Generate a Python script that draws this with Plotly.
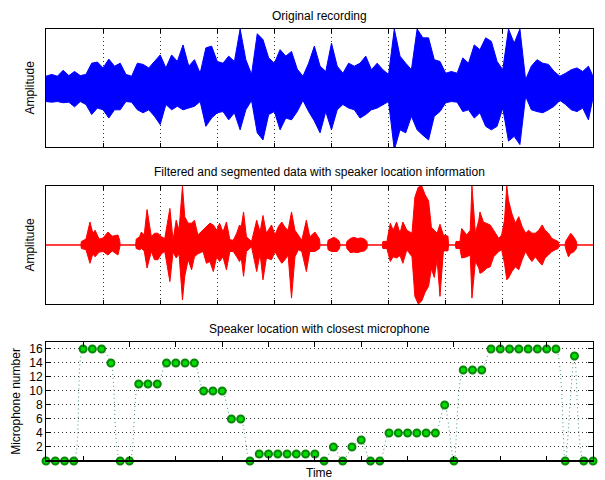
import plotly.graph_objects as go

# ---------------- data ----------------
# Original recording: amplitude envelope (normalised to the axes), sampled every 0.1 time units
orig_t = [round(0.1 * k, 2) for k in range(96)] + [9.58]
orig_upper = [0.20, 0.23, 0.20, 0.30, 0.21, 0.28, 0.21, 0.23, 0.42, 0.44,
              0.34, 0.49, 0.37, 0.42, 0.23, 0.20, 0.42, 0.40, 0.34, 0.45,
              0.56, 0.34, 0.56, 0.45, 0.73, 0.37, 0.48, 0.25, 0.68, 0.71,
              0.45, 0.42, 0.54, 0.45, 1.00, 0.48, 0.23, 0.92, 0.82, 0.51,
              0.42, 0.65, 0.54, 0.62, 0.32, 0.20, 0.42, 0.71, 0.37, 0.28,
              0.76, 0.37, 0.25, 0.42, 0.37, 0.42, 0.54, 0.31, 0.42, 0.31,
              0.23, 1.00, 0.54, 0.42, 0.31, 1.00, 0.85, 0.85, 0.48, 0.45,
              0.25, 0.28, 0.25, 0.51, 0.42, 0.73, 0.65, 0.85, 0.79, 0.45,
              0.31, 1.00, 0.76, 1.00, 0.14, 0.37, 0.48, 0.42, 0.40, 0.28,
              0.20, 0.25, 0.31, 0.34, 0.28, 0.37, 0.20]
orig_lower = [-0.23, -0.24, -0.23, -0.25, -0.24, -0.32, -0.23, -0.28, -0.45, -0.34,
              -0.37, -0.51, -0.37, -0.37, -0.23, -0.24, -0.37, -0.42, -0.37, -0.48,
              -0.62, -0.28, -0.37, -0.31, -0.37, -0.34, -0.31, -0.23, -0.65, -0.51,
              -0.42, -0.40, -0.54, -0.42, -0.71, -0.37, -0.21, -0.76, -0.88, -0.45,
              -0.40, -0.71, -0.51, -0.54, -0.40, -0.21, -0.40, -0.56, -0.76, -0.40,
              -0.71, -0.37, -0.28, -0.34, -0.37, -0.51, -0.45, -0.37, -0.34, -0.28,
              -0.23, -1.05, -0.71, -0.76, -0.48, -0.71, -0.80, -0.88, -0.48, -0.40,
              -0.25, -0.23, -0.24, -0.40, -0.37, -0.51, -0.42, -0.65, -0.71, -0.65,
              -0.34, -0.90, -0.82, -0.96, -0.14, -0.37, -0.40, -0.42, -0.37, -0.31,
              -0.21, -0.28, -0.37, -0.40, -0.34, -0.54, -0.17]

# Filtered and segmented data: envelope (time, upper, lower)
filt_t = [0, 0.61,
          0.62, 0.70, 0.77, 0.82, 0.86, 0.93, 1.00, 1.085, 1.16, 1.26, 1.29, 1.30,
          1.57,
          1.58, 1.64, 1.67, 1.72, 1.77, 1.845, 1.90, 1.96, 2.02, 2.08, 2.17, 2.225,
          2.28, 2.33, 2.39, 2.43, 2.49, 2.55, 2.60, 2.66, 2.75, 2.81, 2.87, 2.93,
          2.99, 3.04, 3.10, 3.16, 3.22, 3.28, 3.34, 3.39, 3.42, 3.46, 3.51, 3.60,
          3.69, 3.75, 3.80, 3.86, 3.95, 4.01, 4.07, 4.13, 4.185, 4.24, 4.30, 4.36,
          4.42, 4.48, 4.56, 4.62, 4.71, 4.79, 4.80,
          4.93,
          4.94, 5.00, 5.04, 5.10, 5.14, 5.15,
          5.26,
          5.27, 5.33, 5.39, 5.45, 5.52, 5.58, 5.62, 5.63,
          5.89,
          5.90, 5.97, 6.03, 6.08, 6.14, 6.20, 6.25, 6.32, 6.41, 6.46, 6.52, 6.58,
          6.64, 6.70, 6.75, 6.80, 6.85, 6.90, 6.96, 7.04, 7.05,
          7.17,
          7.18, 7.25, 7.28, 7.37, 7.43, 7.46, 7.52, 7.58, 7.60, 7.66, 7.72, 7.78,
          7.84, 7.93, 7.98, 8.03, 8.07, 8.10, 8.16, 8.22, 8.28, 8.34, 8.40, 8.45,
          8.51, 8.57, 8.63, 8.69, 8.74, 8.80, 8.86, 8.92, 8.97, 8.98,
          9.09,
          9.10, 9.15, 9.19, 9.24, 9.29, 9.30,
          9.58]
filt_upper = [0, 0,
              0.06, 0.10, 0.39, 0.20, 0.25, 0.10, 0.12, 0.22, 0.15, 0.17, 0.08, 0,
              0,
              0.10, 0.14, 0.22, 0.17, 0.60, 0.14, 0.20, 0.20, 0.14, 0.11, 0.62, 0.08,
              0.42, 0.25, 1.00, 0.48, 0.37, 0.37, 0.42, 0.17, 0.25, 0.31, 0.37, 0.34,
              0.25, 0.37, 0.22, 0.39, 0.09, 0.08, 0.20, 0.34, 0.31, 0.56, 0.14, 0.06,
              0.42, 0.22, 0.50, 0.20, 0.34, 0.17, 0.31, 0.39, 0.30, 0.25, 0.56, 0.25,
              0.17, 0.08, 0.42, 0.14, 0.22, 0.10, 0,
              0,
              0.08, 0.11, 0.13, 0.10, 0.06, 0,
              0,
              0.06, 0.11, 0.13, 0.11, 0.12, 0.10, 0.06, 0,
              0,
              0.06, 0.06, 0.37, 0.25, 0.39, 0.20, 0.39, 0.25, 0.20, 0.81, 0.98, 1.00,
              0.85, 0.75, 0.30, 0.25, 0.20, 0.35, 0.17, 0.15, 0,
              0,
              0.06, 0.06, 0.28, 0.17, 0.25, 1.00, 0.20, 0.42, 0.56, 0.39, 0.37, 0.34,
              0.25, 0.11, 0.17, 0.42, 1.00, 0.76, 0.53, 0.37, 0.48, 0.31, 0.20, 0.25,
              0.20, 0.20, 0.25, 0.34, 0.25, 0.20, 0.11, 0.08, 0.06, 0,
              0,
              0.06, 0.14, 0.20, 0.14, 0.06, 0,
              0]
filt_lower = [0, 0,
              -0.06, -0.08, -0.31, -0.15, -0.20, -0.12, -0.11, -0.17, -0.10, -0.17, -0.06, 0,
              0,
              -0.06, -0.08, -0.06, -0.10, -0.39, -0.11, -0.25, -0.25, -0.15, -0.11, -0.62, -0.12,
              -0.22, -0.15, -0.93, -0.53, -0.25, -0.42, -0.20, -0.15, -0.11, -0.31, -0.28, -0.45,
              -0.20, -0.28, -0.20, -0.42, -0.11, -0.11, -0.20, -0.28, -0.22, -0.53, -0.11, -0.03,
              -0.45, -0.15, -0.59, -0.22, -0.25, -0.11, -0.22, -0.31, -0.25, -0.17, -0.90, -0.20,
              -0.08, -0.11, -0.45, -0.11, -0.11, -0.06, 0,
              0,
              -0.08, -0.11, -0.11, -0.11, -0.06, 0,
              0,
              -0.06, -0.13, -0.12, -0.13, -0.11, -0.10, -0.06, 0,
              0,
              -0.06, -0.06, -0.28, -0.20, -0.22, -0.18, -0.31, -0.08, -0.20, -0.87, -1.00, -0.95,
              -0.80, -0.70, -0.40, -0.55, -0.25, -0.87, -0.10, -0.10, 0,
              0,
              -0.06, -0.06, -0.22, -0.20, -0.17, -0.90, -0.28, -0.39, -0.48, -0.45, -0.39, -0.37,
              -0.20, -0.11, -0.08, -0.31, -0.59, -0.56, -0.45, -0.37, -0.42, -0.25, -0.11, -0.20,
              -0.28, -0.20, -0.28, -0.34, -0.22, -0.17, -0.11, -0.08, -0.06, 0,
              0,
              -0.06, -0.20, -0.14, -0.12, -0.06, 0,
              0]

# Speaker location: closest microphone per time step
loc_t = [round(0.2 * (i + 1), 1) for i in range(60)]
loc_mic = [0, 0, 0, 0, 16, 16, 16, 14, 0, 0, 11, 11, 11, 14, 14, 14, 14, 10, 10, 10,
           6, 6, 0, 1, 1, 1, 1, 1, 1, 1, 0, 2, 0, 2, 3, 0, 0, 4, 4, 4,
           4, 4, 4, 8, 0, 13, 13, 13, 16, 16, 16, 16, 16, 16, 16, 16, 0, 15, 0, 0]

wave_ticks = [1, 2, 3, 4, 5, 6, 7, 8, 9]
loc_xticks = [1, 2, 3, 4, 5, 6, 7, 8, 9, 10, 11]
loc_yticks = [2, 4, 6, 8, 10, 12, 14, 16]

# ---------------- figure ----------------
FONT = "Liberation Sans, Arial, Helvetica, sans-serif"
fig = go.Figure()

fig.add_trace(go.Scatter(
    x=orig_t + orig_t[::-1], y=orig_upper + orig_lower[::-1],
    fill="toself", fillcolor="#0000ff", mode="lines",
    line=dict(color="#0000ff", width=1), xaxis="x", yaxis="y",
    hoverinfo="skip", showlegend=False))

fig.add_trace(go.Scatter(
    x=filt_t + filt_t[::-1], y=filt_upper + filt_lower[::-1],
    fill="toself", fillcolor="#ff0000", mode="lines",
    line=dict(color="#ff0000", width=1), xaxis="x2", yaxis="y2",
    hoverinfo="skip", showlegend=False))

fig.add_trace(go.Scatter(
    x=loc_t, y=loc_mic, mode="lines+markers",
    line=dict(color="#3f9a70", width=1, dash="1px,3px", shape="spline", smoothing=0.8),
    marker=dict(size=7, color="#00dd00", line=dict(color="#0a850a", width=2)),
    cliponaxis=False, xaxis="x3", yaxis="y3", showlegend=False))

frame = dict(showline=True, linecolor="black", linewidth=1, mirror=True,
             zeroline=False)
grid = dict(showgrid=True, gridcolor="#333333", gridwidth=1, griddash="1px,3px")

fig.update_layout(
    width=605, height=480,
    margin=dict(l=46, r=12, t=29, b=19),
    paper_bgcolor="white", plot_bgcolor="white",
    font=dict(family=FONT, size=11, color="black"),
    xaxis=dict(domain=[0, 1], range=[0, 9.58], anchor="y", tickvals=wave_ticks,
               showticklabels=False, ticks="inside", ticklen=4, tickcolor="black",
               **frame, **grid),
    yaxis=dict(domain=[0.7269, 1.0], range=[-1, 1], anchor="x",
               showticklabels=False, ticks="", showgrid=False, **frame),
    xaxis2=dict(domain=[0, 1], range=[0, 9.58], anchor="y2", tickvals=wave_ticks,
                showticklabels=False, ticks="inside", ticklen=4, tickcolor="black",
                **frame, **grid),
    yaxis2=dict(domain=[0.3634, 0.6366], range=[-1, 1], anchor="x2",
                showticklabels=False, ticks="", showgrid=False, **frame),
    xaxis3=dict(domain=[0, 1], range=[0.2, 12], anchor="y3", tickvals=loc_xticks,
                showticklabels=False, ticks="inside", ticklen=5, tickcolor="black",
                showgrid=False, **frame),
    yaxis3=dict(domain=[0, 0.2755], range=[0, 17], anchor="x3", tickvals=loc_yticks,
                ticks="inside", ticklen=5, tickcolor="black",
                tickfont=dict(size=12), **frame, **grid),
)
fig.update_xaxes(mirror="ticks")
fig.update_yaxes(mirror="ticks", selector=dict(anchor="x3"))

# thick bottom line at microphone 0
fig.add_shape(type="line", xref="x3 domain", yref="y3", x0=0, x1=1, y0=0, y1=0,
              line=dict(color="black", width=2), layer="above")

ann = [
    dict(text="Original recording", x=0.5, y=1.031, size=12),
    dict(text="Filtered and segmented data with speaker location information", x=0.5, y=0.669, size=12),
    dict(text="Speaker location with closest microphone", x=0.5, y=0.305, size=12),
    dict(text="Time", x=0.5, y=-0.0093, size=12, yanchor="top"),
    dict(text="Amplitude", x=-0.030, y=0.8635, angle=-90, size=12),
    dict(text="Amplitude", x=-0.030, y=0.50, angle=-90, size=12),
    dict(text="Microphone number", x=-0.054, y=0.138, angle=-90, size=12),
]
for a in ann:
    fig.add_annotation(text=a["text"], x=a["x"], y=a["y"], xref="paper", yref="paper",
                       xanchor="center", yanchor=a.get("yanchor", "middle"), showarrow=False,
                       textangle=a.get("angle", 0), borderpad=0,
                       font=dict(family=FONT, size=a.get("size", 11), color="black"))

fig.write_html("out.html")
